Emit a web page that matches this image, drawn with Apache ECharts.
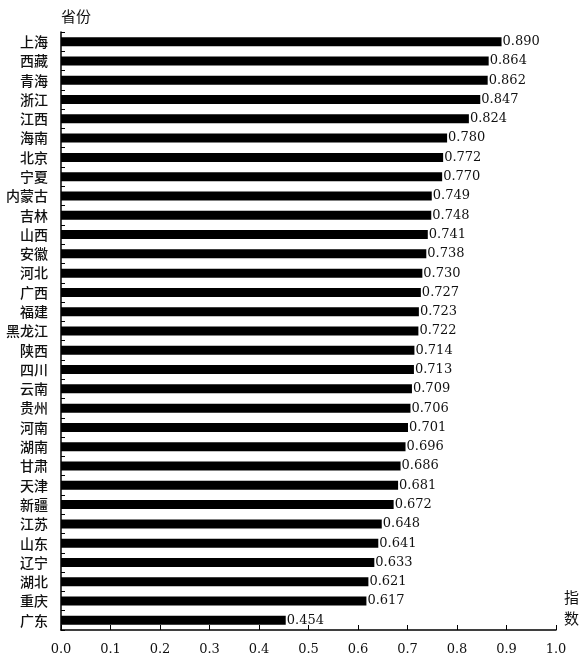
<!DOCTYPE html>
<html>
<head>
<meta charset="utf-8">
<script src="https://cdn.jsdelivr.net/npm/echarts@6/dist/echarts.min.js"></script>
<style>
  html, body { margin: 0; padding: 0; background: #fff; }
  #chart { width: 582px; height: 656px; }
</style>
</head>
<body>
<div id="chart"></div>
<script>
// Provinces, listed top to bottom as drawn
const provinces = ['上海', '西藏', '青海', '浙江', '江西', '海南', '北京', '宁夏', '内蒙古', '吉林',
  '山西', '安徽', '河北', '广西', '福建', '黑龙江', '陕西', '四川', '云南', '贵州',
  '河南', '湖南', '甘肃', '天津', '新疆', '江苏', '山东', '辽宁', '湖北', '重庆', '广东'];
// Index value for each province
const indexValues = [0.890, 0.864, 0.862, 0.847, 0.824, 0.780, 0.772, 0.770, 0.749, 0.748,
  0.741, 0.738, 0.730, 0.727, 0.723, 0.722, 0.714, 0.713, 0.709, 0.706,
  0.701, 0.696, 0.686, 0.681, 0.672, 0.648, 0.641, 0.633, 0.621, 0.617, 0.454];
// Value axis range and step
const xMin = 0, xMax = 1, xStep = 0.1;

const numFont = '"DejaVu Serif", "Liberation Serif", serif';
const cjkFont = '"Noto Sans CJK SC", sans-serif';

// category axis runs bottom-up, so feed reversed copies
const cats = provinces.slice().reverse();
const vals = indexValues.slice().reverse();

const chart = echarts.init(document.getElementById('chart'), null, { renderer: 'canvas' });
chart.setOption({
  backgroundColor: '#ffffff',
  animation: false,
  grid: { left: 61, right: 24, top: 32, bottom: 24, containLabel: false },
  xAxis: {
    type: 'value',
    min: xMin, max: xMax, interval: xStep,
    name: '指\n数',
    nameLocation: 'end',
    nameGap: 8,
    nameTextStyle: {
      fontFamily: cjkFont, fontSize: 15, color: '#111',
      align: 'left', verticalAlign: 'bottom', lineHeight: 21, padding: [0, 0, 1, 0]
    },
    axisLine: { show: true, lineStyle: { color: '#000', width: 1.5 } },
    axisTick: { show: true, inside: true, length: 5, lineStyle: { color: '#000', width: 1 } },
    axisLabel: {
      margin: 13, color: '#111', fontFamily: numFont, fontSize: 13,
      formatter: v => v.toFixed(1)
    },
    splitLine: { show: false }
  },
  yAxis: {
    type: 'category',
    data: cats,
    name: '省份',
    nameLocation: 'end',
    nameGap: 8,
    nameTextStyle: {
      fontFamily: cjkFont, fontSize: 15, color: '#111', align: 'left', verticalAlign: 'bottom'
    },
    axisLine: { show: true, lineStyle: { color: '#000', width: 1.5 } },
    axisTick: { show: true, inside: true, length: 4, alignWithLabel: false, lineStyle: { color: '#000' } },
    axisLabel: { margin: 13, color: '#111', fontFamily: cjkFont, fontSize: 14, fontWeight: 500 },
    splitLine: { show: false }
  },
  series: [{
    type: 'bar',
    data: vals,
    barWidth: 9,
    itemStyle: { color: '#000' },
    label: {
      show: true,
      position: 'right',
      distance: 1,
      color: '#111',
      fontFamily: numFont,
      fontSize: 13,
      formatter: p => p.value.toFixed(3)
    }
  }]
});
</script>
</body>
</html>
